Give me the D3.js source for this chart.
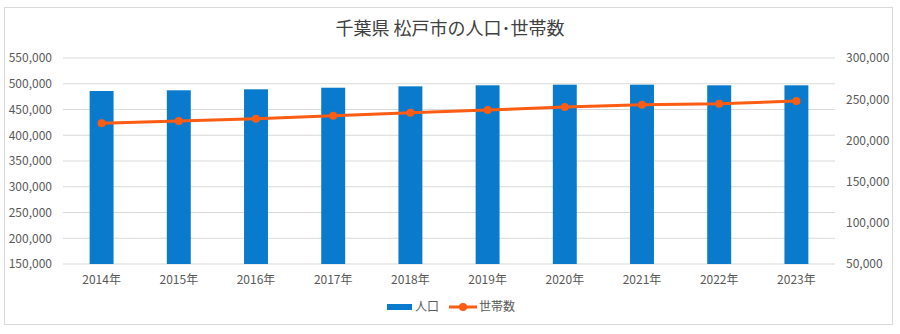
<!DOCTYPE html>
<html><head><meta charset="utf-8">
<script src="https://cdn.jsdelivr.net/npm/d3@7"></script>
<style>body{margin:0;background:#fff}svg text{font-family:"Noto Sans CJK JP","Noto Sans",sans-serif}</style>
</head><body><svg id="c" width="900" height="334"></svg>
<script>
const years = ["2014年","2015年","2016年","2017年","2018年","2019年","2020年","2021年","2022年","2023年"];
const population = [485900,487300,489200,492300,495000,497000,498200,498200,497000,497000];
const households = [220700,223500,226300,230000,233600,236900,240500,243300,244500,247800];
const leftTicks = [150000,200000,250000,300000,350000,400000,450000,500000,550000];
const rightTicks = [50000,100000,150000,200000,250000,300000];
const title = "千葉県 松戸市の人口･世帯数";
const legendLabels = ["人口","世帯数"];

const svg = d3.select("#c");
const m = {left:63, right:835, top:58, bottom:264};
svg.append("rect").attr("x",4.5).attr("y",7.5).attr("width",888).attr("height",317)
  .attr("fill","#fff").attr("stroke","#d9d9d9");

const x = d3.scaleBand().domain(years).range([m.left,m.right]).paddingInner(0.69).paddingOuter(0.345);
const yL = d3.scaleLinear().domain([150000,550000]).range([m.bottom,m.top]);
const yR = d3.scaleLinear().domain([50000,300000]).range([m.bottom,m.top]);
const fmt = d3.format(",");

// gridlines
svg.append("g").selectAll("line").data(leftTicks).join("line")
  .attr("x1",m.left).attr("x2",m.right).attr("y1",d=>yL(d)).attr("y2",d=>yL(d))
  .attr("stroke","#d9d9d9").attr("stroke-width",1);

// left axis
const gl = svg.append("g").attr("transform",`translate(${m.left-11},0)`)
  .call(d3.axisLeft(yL).tickValues(leftTicks).tickFormat(fmt).tickSize(0).tickPadding(0));
gl.select(".domain").remove();
gl.selectAll("text").attr("fill","#595959").style("font-size","12px");

// right axis
const gr = svg.append("g").attr("transform",`translate(${m.right+11},0)`)
  .call(d3.axisRight(yR).tickValues(rightTicks).tickFormat(fmt).tickSize(0).tickPadding(0));
gr.select(".domain").remove();
gr.selectAll("text").attr("fill","#595959").style("font-size","12px");

// bottom axis
const gb = svg.append("g").attr("transform",`translate(0,${m.bottom})`)
  .call(d3.axisBottom(x).tickSize(0).tickPadding(11));
gb.select(".domain").remove();
gb.selectAll("text").attr("fill","#595959").style("font-size","12px");

// bars
svg.append("g").selectAll("rect").data(years).join("rect")
  .attr("x",d=>x(d)).attr("width",x.bandwidth())
  .attr("y",(d,i)=>yL(population[i])).attr("height",(d,i)=>yL(150000)-yL(population[i]))
  .attr("fill","#0a7bcc");

// line
const line = d3.line().x((d,i)=>x(years[i])+x.bandwidth()/2).y(d=>yR(d));
svg.append("path").datum(households).attr("d",line).attr("fill","none")
  .attr("stroke","#fc5c14").attr("stroke-width",3);
svg.append("g").selectAll("circle").data(households).join("circle")
  .attr("cx",(d,i)=>x(years[i])+x.bandwidth()/2).attr("cy",d=>yR(d)).attr("r",4)
  .attr("fill","#fc5c14");

// title
svg.append("text").attr("x",450).attr("y",35).attr("text-anchor","middle")
  .attr("fill","#404040").style("font-size","18px").text(title);

// legend
const lg = svg.append("g");
lg.append("rect").attr("x",387).attr("y",304).attr("width",25).attr("height",6).attr("fill","#0a7bcc");
lg.append("text").attr("x",415).attr("y",311).attr("fill","#595959").style("font-size","12px").text(legendLabels[0]);
lg.append("line").attr("x1",449).attr("x2",477).attr("y1",307).attr("y2",307).attr("stroke","#fc5c14").attr("stroke-width",3);
lg.append("circle").attr("cx",463).attr("cy",307).attr("r",4).attr("fill","#fc5c14");
lg.append("text").attr("x",479).attr("y",311).attr("fill","#595959").style("font-size","12px").text(legendLabels[1]);
</script></body></html>
